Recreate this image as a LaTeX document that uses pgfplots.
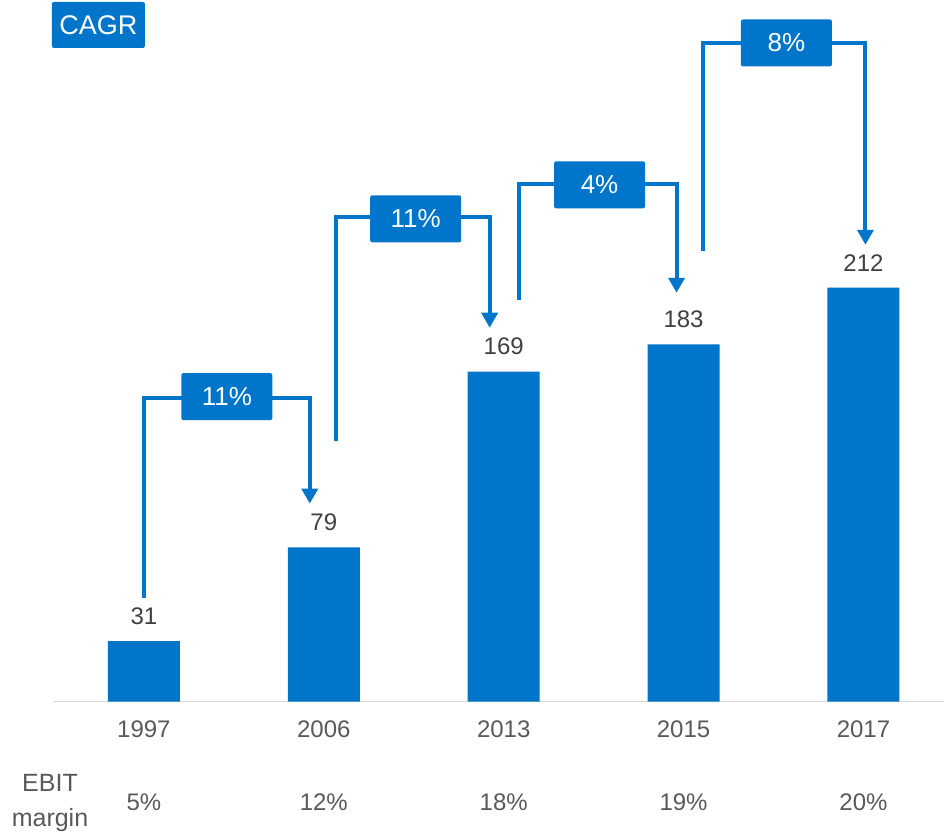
\documentclass[border=0pt]{standalone}
\usepackage{fontspec}
\setmainfont{Liberation Sans}
\usepackage{pgfplots}
\pgfplotsset{compat=1.18}
\usetikzlibrary{arrows.meta}
\definecolor{bblue}{RGB}{0,117,201}
\definecolor{tgray}{RGB}{89,89,89}
\definecolor{vgray}{RGB}{64,64,64}
\definecolor{lgray}{RGB}{217,217,217}
\begin{document}
\begin{tikzpicture}
\begin{axis}[
 width=445.5pt, height=351pt, scale only axis,
 xmin=-0.5, xmax=4.45, ymin=0, ymax=359.4,
 axis x line=bottom, axis y line=none,
 x axis line style={-, draw=lgray, line width=0.6pt},
 xtick={0,1,2,3,4}, xticklabels={1997,2006,2013,2015,2017},
 major tick length=0pt,
 xticklabel style={anchor=center, yshift=-14pt, font=\fontsize{12}{14}\selectfont, text=tgray},
 /pgf/number format/assume math mode=true,
 clip=false,
 ybar, bar width=0.4, bar shift=0pt,
 nodes near coords,
 nodes near coords style={anchor=center, yshift=12.5pt, font=\fontsize{12}{14}\selectfont, text=vgray},
]
\addplot[fill=bblue, draw=none] coordinates {(0,31) (1,79) (2,169) (3,183) (4,212)};

\path (axis cs:-0.8,-66.6) rectangle (axis cs:4.45,359.4);

\tikzset{cagr/.style={draw=bblue, line width=2pt, -{Triangle[width=8pt,length=7.5pt]}},
 cbox/.style={fill=bblue, text=white, rounded corners=1pt, minimum width=45.5pt, minimum height=23.5pt, inner sep=0pt, font=\fontsize{13}{15}\selectfont},
 ebit/.style={text=tgray, font=\fontsize{12}{14}\selectfont}}

\draw[cagr] (axis cs:0,53.2) |- (axis cs:0.922,155.6) -- (axis cs:0.922,101.4);
\node[cbox] at (axis cs:0.461,156.2) {11\%};

\draw[cagr] (axis cs:1.067,133.6) |- (axis cs:1.922,248.3) -- (axis cs:1.922,191.5);
\node[cbox] at (axis cs:1.511,247.3) {11\%};

\draw[cagr] (axis cs:2.083,205.8) |- (axis cs:2.961,265.2) -- (axis cs:2.961,209.4);
\node[cbox] at (axis cs:2.533,264.7) {4\%};

\draw[cagr] (axis cs:3.106,230.9) |- (axis cs:4.011,337.4) -- (axis cs:4.011,234.0);
\node[cbox] at (axis cs:3.572,337.4) {8\%};

\node[fill=bblue, text=white, rounded corners=1pt, minimum width=46.5pt, minimum height=23pt, inner sep=0pt, font=\fontsize{13.5}{16}\selectfont] at (axis cs:-0.253,346.6) {CAGR};

\node[align=center, text=tgray, font=\fontsize{12.5}{17.5}\selectfont] at (axis cs:-0.522,-51.8) {EBIT\\margin};
\node[ebit] at (axis cs:0,-51.7) {5\%};
\node[ebit] at (axis cs:1,-51.7) {12\%};
\node[ebit] at (axis cs:2,-51.7) {18\%};
\node[ebit] at (axis cs:3,-51.7) {19\%};
\node[ebit] at (axis cs:4,-51.7) {20\%};
\end{axis}
\end{tikzpicture}
\end{document}
